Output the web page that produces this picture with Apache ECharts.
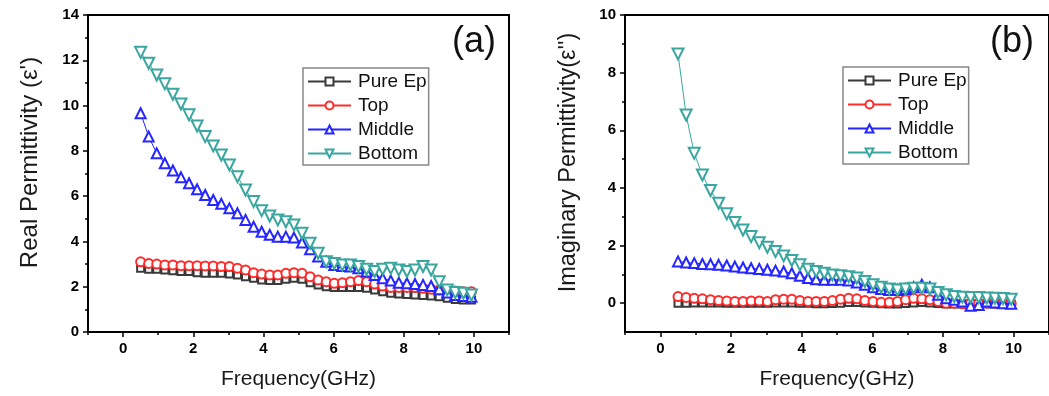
<!DOCTYPE html>
<html>
<head>
<meta charset="utf-8">
<script src="https://cdn.jsdelivr.net/npm/echarts@6/dist/echarts.min.js"></script>
<style>html,body{margin:0;padding:0;background:#fff;}#c{width:1049px;height:396px;}</style>
</head>
<body>
<div id="c"></div>
<script>
var freq = [0.5,0.73,0.96,1.19,1.42,1.65,1.88,2.11,2.34,2.57,2.80,3.03,3.26,3.49,3.72,3.95,4.18,4.41,4.64,4.87,5.10,5.33,5.56,5.79,6.02,6.25,6.48,6.71,6.94,7.17,7.40,7.63,7.86,8.09,8.32,8.55,8.78,9.01,9.24,9.47,9.70,9.93];
var seriesNames = ['Pure Ep','Top','Middle','Bottom'];

// Real permittivity (a)
var realPure = [2.81,2.77,2.77,2.74,2.71,2.67,2.67,2.62,2.59,2.59,2.59,2.56,2.52,2.44,2.37,2.30,2.27,2.27,2.33,2.37,2.33,2.18,2.08,2.00,1.97,1.97,1.97,1.97,1.93,1.86,1.78,1.71,1.68,1.66,1.63,1.61,1.59,1.56,1.49,1.44,1.41,1.41];
var realTop = [3.10,3.03,3.00,2.96,2.96,2.93,2.93,2.93,2.92,2.92,2.89,2.89,2.81,2.74,2.62,2.56,2.52,2.52,2.59,2.62,2.59,2.44,2.30,2.22,2.15,2.18,2.22,2.27,2.22,2.12,2.03,1.97,1.97,1.97,1.97,1.93,1.89,1.86,1.83,1.81,1.78,1.78];
var realMiddle = [9.66,8.63,7.89,7.45,7.13,6.83,6.57,6.30,6.05,5.83,5.66,5.46,5.24,4.95,4.65,4.43,4.29,4.21,4.21,4.17,3.95,3.65,3.33,3.10,2.96,2.92,2.89,2.81,2.67,2.52,2.37,2.27,2.18,2.15,2.12,2.08,2.03,1.89,1.74,1.63,1.59,1.56];
var realBottom = [12.35,11.87,11.35,10.96,10.50,10.07,9.59,9.10,8.63,8.22,7.82,7.38,6.86,6.27,5.76,5.36,5.12,4.95,4.87,4.73,4.36,3.92,3.48,3.10,3.03,2.96,2.96,2.89,2.77,2.67,2.77,2.81,2.74,2.67,2.74,2.89,2.74,2.22,1.86,1.74,1.71,1.63];

// Imaginary permittivity (b)
var imagPure = [0.00,0.00,0.01,0.01,0.01,0.01,0.00,0.00,0.00,0.00,0.00,0.00,0.01,0.01,0.01,0.00,0.00,-0.02,-0.02,-0.01,0.00,0.02,0.02,0.01,0.00,-0.02,-0.03,-0.03,-0.01,0.01,0.02,0.01,-0.01,-0.03,-0.03,-0.03,-0.02,-0.02,-0.02,-0.03,-0.03,-0.03];
var imagTop = [0.23,0.20,0.17,0.15,0.12,0.09,0.08,0.06,0.06,0.08,0.08,0.06,0.12,0.14,0.14,0.09,0.06,0.06,0.06,0.09,0.14,0.17,0.15,0.09,0.06,0.03,0.03,0.06,0.12,0.17,0.15,0.12,0.06,0.00,0.00,-0.02,0.00,0.00,0.00,0.00,0.00,-0.02];
var imagMiddle = [1.45,1.41,1.39,1.36,1.35,1.33,1.31,1.27,1.24,1.21,1.19,1.16,1.13,1.10,1.04,0.95,0.87,0.83,0.81,0.81,0.81,0.79,0.72,0.64,0.55,0.49,0.46,0.46,0.49,0.55,0.64,0.55,0.29,0.17,0.12,0.06,-0.09,-0.06,0.06,0.02,0.00,-0.02];
var imagBottom = [8.65,6.53,5.20,4.45,3.91,3.47,3.10,2.80,2.54,2.31,2.10,1.94,1.79,1.64,1.48,1.33,1.18,1.10,1.04,0.98,0.95,0.92,0.87,0.75,0.64,0.55,0.49,0.46,0.49,0.52,0.52,0.49,0.37,0.29,0.23,0.21,0.20,0.20,0.18,0.17,0.16,0.14];

var xMajor = [0,2,4,6,8,10];
var xMinor = [-1,1,3,5,7,9,11];
var yMajorB = [0,2,4,6,8,10];
var yMinorB = [1,3,5,7,9];

var colors = ['#3a3a3a','#ff2b2b','#2626ff','#3aa6a0'];
var symbols = ['emptyRect','emptyCircle','emptyTriangle','emptyTriangle'];
var symbolSizes = [7,9,10,11];
var rotations = [0,0,0,180];
var FONT = 'Liberation Sans, Arial, sans-serif';

function pairs(vals){ return freq.map(function(f,i){ return [f, vals[i]]; }); }

var chart = echarts.init(document.getElementById('c'), null, {renderer:'canvas'});

var grids = [
  {left:88, top:15, width:421, bottom:64, show:true, borderColor:'#000', borderWidth:2, backgroundColor:'transparent'},
  {left:625, top:15, right:-3, bottom:64, show:true, borderColor:'#000', borderWidth:2, backgroundColor:'transparent'}
];

function mainX(g){
  return {type:'value', gridIndex:g, position:'bottom', min:-1, max:11, interval:1,
    name:'Frequency(GHz)', nameLocation:'middle', nameGap:37,
    nameTextStyle:{fontFamily:FONT, fontSize:21, color:'#1a1a1a'},
    axisLine:{show:true, onZero:false, lineStyle:{color:'#000', width:2}},
    axisTick:{show:true, inside:false, length:5, customValues:xMajor, lineStyle:{color:'#000', width:1.5}},
    axisLabel:{show:true, customValues:xMajor, margin:9, fontFamily:FONT, fontWeight:'bold', fontSize:15, color:'#000'},
    splitLine:{show:false}};
}
function minorX(g){
  return {type:'value', gridIndex:g, position:'bottom', min:-1, max:11, interval:1,
    axisLine:{show:false, onZero:false}, axisLabel:{show:false}, splitLine:{show:false},
    axisTick:{show:true, inside:false, length:3, customValues:xMinor, lineStyle:{color:'#000', width:1.5}}};
}

var xAxes = [mainX(0), minorX(0), mainX(1), minorX(1)];

var yAxes = [
  {type:'value', gridIndex:0, position:'left', min:0, max:14, interval:2,
    name:"Real Permittivity (ε')", nameLocation:'middle', nameGap:46,
    nameTextStyle:{fontFamily:FONT, fontSize:24, color:'#1a1a1a', padding:[0,0,0,22]},
    axisLine:{show:true, onZero:false, lineStyle:{color:'#000', width:2}},
    axisTick:{show:true, inside:false, length:5, lineStyle:{color:'#000', width:1.5}},
    minorTick:{show:true, splitNumber:2, length:3, lineStyle:{color:'#000', width:1.5}},
    axisLabel:{margin:9, fontFamily:FONT, fontWeight:'bold', fontSize:15, color:'#000'},
    splitLine:{show:false}, minorSplitLine:{show:false}},
  {type:'value', gridIndex:1, position:'left', min:-1, max:10, interval:1,
    name:"Imaginary Permittivity(ε'')", nameLocation:'middle', nameGap:44,
    nameTextStyle:{fontFamily:FONT, fontSize:23.5, color:'#1a1a1a', padding:[0,0,0,22]},
    axisLine:{show:true, onZero:false, lineStyle:{color:'#000', width:2}},
    axisTick:{show:true, inside:false, length:5, customValues:yMajorB, lineStyle:{color:'#000', width:1.5}},
    axisLabel:{margin:9, customValues:yMajorB, fontFamily:FONT, fontWeight:'bold', fontSize:15, color:'#000'},
    splitLine:{show:false}},
  {type:'value', gridIndex:1, position:'left', min:-1, max:10, interval:1,
    axisLine:{show:false, onZero:false}, axisLabel:{show:false}, splitLine:{show:false},
    axisTick:{show:true, inside:false, length:3, customValues:yMinorB, lineStyle:{color:'#000', width:1.5}}}
];

var realData = [realPure, realTop, realMiddle, realBottom];
var imagData = [imagPure, imagTop, imagMiddle, imagBottom];
var series = [];
function addSeries(dataSet, xi, yi){
  dataSet.forEach(function(vals, k){
    series.push({
      type:'line', name:seriesNames[k], xAxisIndex:xi, yAxisIndex:yi,
      data:pairs(vals), symbol:symbols[k], symbolSize:symbolSizes[k], symbolRotate:rotations[k],
      showAllSymbol:true,
      lineStyle:{color:colors[k], width:1},
      itemStyle:{color:colors[k], borderColor:colors[k], borderWidth:1},
      emphasis:{disabled:true}, z:2+k
    });
  });
}
addSeries(realData, 0, 0);
addSeries(imagData, 2, 1);

function legend(left, top){
  return {orient:'vertical', left:left, top:top, data:seriesNames,
    itemWidth:43, itemHeight:10, itemGap:5,
    borderColor:'#888', borderWidth:1.5, padding:[4,2,2,4], backgroundColor:'#fff',
    textStyle:{fontFamily:FONT, fontSize:19, color:'#111', padding:[0,0,0,2]},
    selectedMode:false};
}

chart.setOption({
  animation:false,
  backgroundColor:'#fff',
  grid:grids,
  xAxis:xAxes,
  yAxis:yAxes,
  legend:[legend(303,68), legend(843,67)],
  graphic:[
    {type:'text', left:452, top:24, style:{text:'(a)', fontFamily:FONT, fontSize:36, fill:'#111'}},
    {type:'text', left:990, top:24, style:{text:'(b)', fontFamily:FONT, fontSize:36, fill:'#111'}}
  ],
  series:series
});
</script>
</body>
</html>
